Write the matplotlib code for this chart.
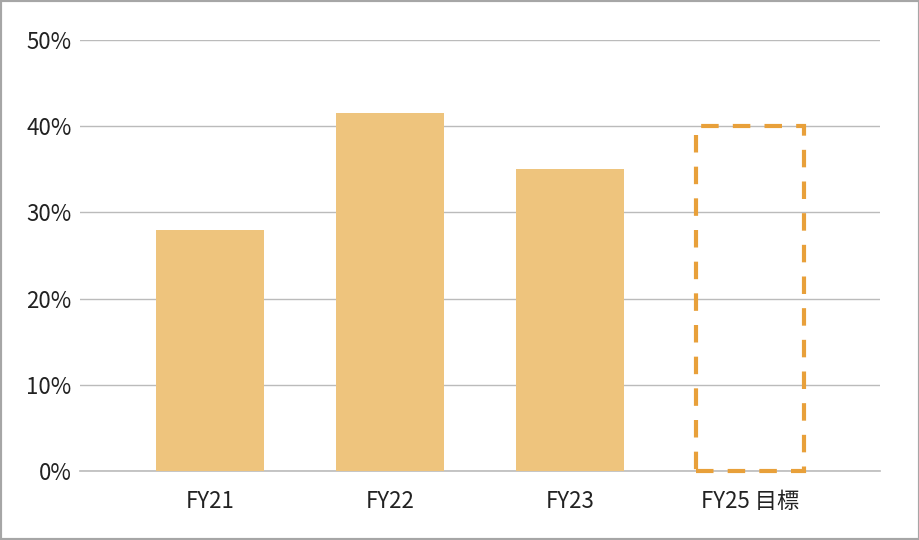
import matplotlib
matplotlib.use("Agg")
import matplotlib.pyplot as plt
from matplotlib.patches import Rectangle

plt.rcParams['font.family'] = ['Noto Sans CJK JP', 'DejaVu Sans']

categories = ["FY21", "FY22", "FY23", "FY25 目標"]
actual_values = [28.0, 41.5, 35.0]
target_value = 40.0
yticks = [0, 10, 20, 30, 40, 50]

fig = plt.figure(figsize=(9.2, 5.4), dpi=100)
ax = fig.add_axes([80/920, 1-471/540, 800/920, (471-40)/540])

x = list(range(len(categories)))
ax.bar(x[:3], actual_values, width=0.6, color="#EEC47D", zorder=2)
tb = ax.bar([x[3]], [target_value], width=0.6, fill=False, edgecolor="#E8A03A",
            linewidth=3.0, linestyle=(0, (4.2, 3.4)), zorder=3)
for p in tb:
    p.set_clip_on(False)

ax.set_xlim(-0.722, 3.722)
ax.set_ylim(0, 50)
ax.set_yticks(yticks)
ax.set_yticklabels([f"{v}%" for v in yticks], fontsize=16, color="#222222")
ax.set_xticks(x)
ax.set_xticklabels(categories, fontsize=16, color="#222222")
ax.tick_params(axis='both', length=0)
ax.tick_params(axis='y', pad=6)
ax.tick_params(axis='x', pad=14)
ax.grid(axis='y', color="#BBBBBB", linewidth=1.0, zorder=0)
ax.axhline(0, color="#BBBBBB", linewidth=1.2, zorder=1, clip_on=False)
ax.set_axisbelow(True)
for s in ax.spines.values():
    s.set_visible(False)

fig.patches.append(Rectangle((0, 0), 1, 1, transform=fig.transFigure, fill=False,
                             edgecolor="#A6A6A6", linewidth=3.0, zorder=10))

fig.savefig("out.png", dpi=100)
